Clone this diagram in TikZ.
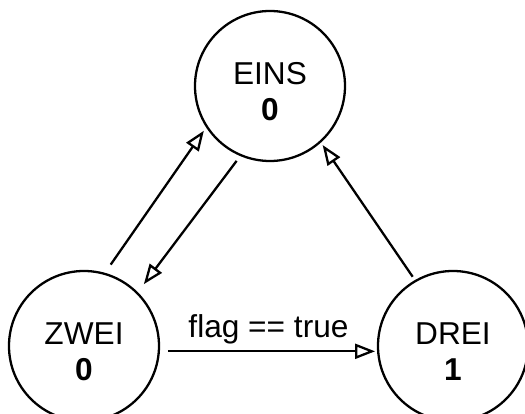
\documentclass[tikz,border=0pt]{standalone}
\usepackage{fontspec}
\setmainfont{Liberation Sans}
\usepackage{tikz}
\usetikzlibrary{automata,positioning,arrows.meta}

\begin{document}
\begin{tikzpicture}[node distance=7.38cm,on grid,auto,
        every state/.style={draw,circle,line width=1.3pt,minimum size=3cm,inner sep=0pt,
            align=center,font=\fontsize{18}{20.5}\selectfont},
        trans/.style={line width=1.3pt,-{Triangle[open,length=0.4cm,width=0.3cm,line width=1.3pt]}}]
            \useasboundingbox (-1.68,-1.36) rectangle (8.82,6.92);
            \node[state] (ZWEI) {\rule{0pt}{18.5pt}ZWEI\\\textbf{0}};
            \node[state] (DREI) [right=of ZWEI] {\rule{0pt}{18.5pt}DREI\\\textbf{1}};
            \node[state] (EINS) [above right=5.2cm and 3.72cm of ZWEI] {\rule{0pt}{18.5pt}EINS\\\textbf{0}};
            \path[trans]
                (ZWEI.74) edge [shorten <=0.2cm, shorten >=0.08cm] (EINS.213)
                (EINS.247) edge [shorten <=0.12cm, shorten >=0.2cm] (ZWEI.45)
                (DREI.120) edge [shorten <=0.08cm, shorten >=0.06cm] (EINS.-48)
                (ZWEI.-4) edge [shorten <=0.16cm, shorten >=0.04cm]
                    node [font=\fontsize{18}{20.5}\selectfont,above=0pt] {flag == true} (DREI.184);
        \end{tikzpicture}
\end{document}
